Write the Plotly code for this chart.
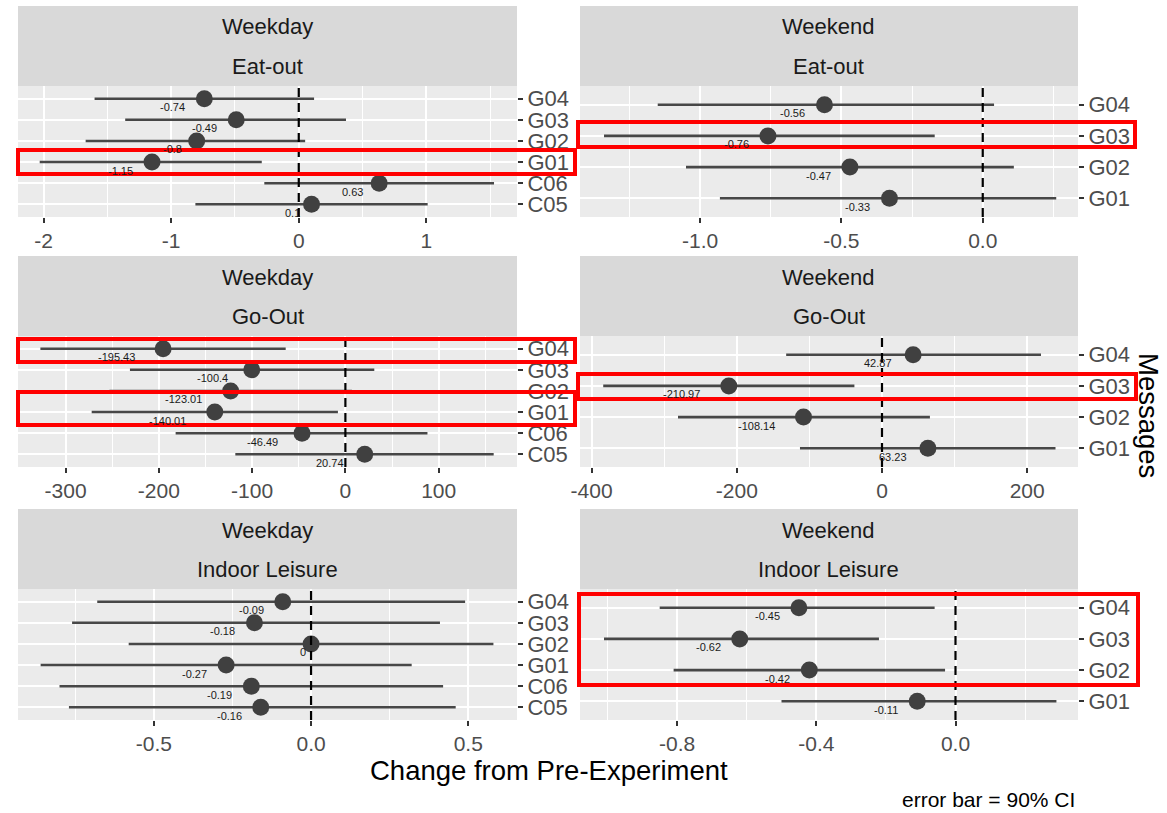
import plotly.graph_objects as go

W, H = 1167, 813
FONT = "Liberation Sans, Arial, sans-serif"

# ---------------- data ----------------
cats_weekday = ["G04", "G03", "G02", "G01", "C06", "C05"]
cats_weekend = ["G04", "G03", "G02", "G01"]

strip_day = ["Weekday", "Weekend"]
strip_act = ["Eat-out", "Go-Out", "Indoor Leisure"]

eat_wd_est = [-0.74, -0.49, -0.8, -1.15, 0.63, 0.1]
eat_wd_lo = [-1.60, -1.36, -1.67, -2.03, -0.27, -0.81]
eat_wd_hi = [0.12, 0.37, 0.05, -0.29, 1.53, 1.01]

eat_we_est = [-0.56, -0.76, -0.47, -0.33]
eat_we_lo = [-1.15, -1.34, -1.05, -0.93]
eat_we_hi = [0.04, -0.17, 0.11, 0.26]

go_wd_est = [-195.43, -100.4, -123.01, -140.01, -46.49, 20.74]
go_wd_lo = [-327, -231, -253, -272, -182, -118]
go_wd_hi = [-64, 31, 7, -8, 88, 159]

go_we_est = [42.87, -210.97, -108.14, 63.23]
go_we_lo = [-132, -384, -281, -113]
go_we_hi = [219, -38, 66, 239]

in_wd_est = [-0.09, -0.18, 0, -0.27, -0.19, -0.16]
in_wd_lo = [-0.68, -0.76, -0.58, -0.86, -0.80, -0.77]
in_wd_hi = [0.49, 0.41, 0.58, 0.32, 0.42, 0.46]

in_we_est = [-0.45, -0.62, -0.42, -0.11]
in_we_lo = [-0.85, -1.01, -0.81, -0.50]
in_we_hi = [-0.06, -0.22, -0.03, 0.29]

# x axis ticks per panel
ticks_eat_wd = [-2, -1, 0, 1]
ticklab_eat_wd = ["-2", "-1", "0", "1"]
ticks_eat_we = [-1.0, -0.5, 0.0]
ticklab_eat_we = ["-1.0", "-0.5", "0.0"]
ticks_go_wd = [-300, -200, -100, 0, 100]
ticklab_go_wd = ["-300", "-200", "-100", "0", "100"]
ticks_go_we = [-400, -200, 0, 200]
ticklab_go_we = ["-400", "-200", "0", "200"]
ticks_in_wd = [-0.5, 0.0, 0.5]
ticklab_in_wd = ["-0.5", "0.0", "0.5"]
ticks_in_we = [-0.8, -0.4, 0.0]
ticklab_in_we = ["-0.8", "-0.4", "0.0"]

panels = [
    # (row, col, cats, est, lo, hi, ticks, labels, range)
    (0, 0, cats_weekday, eat_wd_est, eat_wd_lo, eat_wd_hi, ticks_eat_wd, ticklab_eat_wd, [-2.20, 1.71]),
    (0, 1, cats_weekend, eat_we_est, eat_we_lo, eat_we_hi, ticks_eat_we, ticklab_eat_we, [-1.425, 0.337]),
    (1, 0, cats_weekday, go_wd_est, go_wd_lo, go_wd_hi, ticks_go_wd, ticklab_go_wd, [-351, 184]),
    (1, 1, cats_weekend, go_we_est, go_we_lo, go_we_hi, ticks_go_we, ticklab_go_we, [-416, 270]),
    (2, 0, cats_weekday, in_wd_est, in_wd_lo, in_wd_hi, ticks_in_wd, ticklab_in_wd, [-0.932, 0.655]),
    (2, 1, cats_weekend, in_we_est, in_we_lo, in_we_hi, ticks_in_we, ticklab_in_we, [-1.079, 0.352]),
]

# ---------------- layout geometry (pixels) ----------------
col_x = [(18, 517), (580, 1078)]
row_panel = [(86, 217), (336, 467), (589, 720)]
row_strip = [(6, 86), (256, 336), (509, 589)]

def px(x):
    return x / W

def py(y):
    return 1 - y / H

def label_width(s, size=11):
    w = 0
    for ch in s:
        if ch.isdigit():
            w += 0.556
        elif ch == "-":
            w += 0.333
        elif ch == ".":
            w += 0.278
        else:
            w += 0.5
    return w * size

fig = go.Figure()
layout = dict(
    width=W, height=H,
    margin=dict(l=0, r=0, t=0, b=0, autoexpand=False),
    paper_bgcolor="white",
    plot_bgcolor="#EBEBEB",
    showlegend=False,
    font=dict(family=FONT, color="#4D4D4D"),
)
annotations = []
shapes = []

for i, (r, c, cats, est, lo, hi, tv, tl, rng) in enumerate(panels):
    n = i + 1
    xa = "xaxis" if n == 1 else f"xaxis{n}"
    ya = "yaxis" if n == 1 else f"yaxis{n}"
    xr = "x" if n == 1 else f"x{n}"
    yr = "y" if n == 1 else f"y{n}"
    x0, x1 = col_x[c]
    ptop, pbot = row_panel[r]
    step = tv[1] - tv[0]
    minor_vals = [t + step / 2 for t in [tv[0] - step] + tv]
    layout[xa] = dict(
        domain=[px(x0), px(x1)], anchor=yr, range=rng, automargin=False,
        tickmode="array", tickvals=tv, ticktext=tl,
        ticks="outside", ticklen=5, tickwidth=2, tickcolor="#333333",
        tickfont=dict(family=FONT, size=21, color="#4D4D4D"),
        showgrid=True, gridcolor="white", gridwidth=2,
        minor=dict(tickmode="array", tickvals=minor_vals, showgrid=True,
                   gridcolor="white", gridwidth=1, ticks=""),
        zeroline=False, showline=False, fixedrange=True,
    )
    layout[ya] = dict(
        domain=[py(pbot), py(ptop)], anchor=xr, side="right", automargin=False,
        type="category", categoryorder="array", categoryarray=cats[::-1],
        range=[-0.6, len(cats) - 0.4],
        tickmode="array", tickvals=cats, ticktext=cats,
        ticks="outside", ticklen=5, tickwidth=2, tickcolor="#333333",
        tickfont=dict(family=FONT, size=22, color="#4D4D4D"),
        showgrid=True, gridcolor="white", gridwidth=2,
        zeroline=False, showline=False, fixedrange=True,
    )
    # dashed zero line
    shapes.append(dict(type="line", xref=xr, yref=f"{yr} domain", x0=0, x1=0, y0=0, y1=1,
                       line=dict(color="black", width=2.2, dash="9px,6px"), layer="above"))
    # error bars + points
    fig.add_trace(go.Scatter(
        x=est, y=cats, mode="markers", xaxis=xr, yaxis=yr,
        marker=dict(size=17, color="#404040"),
        error_x=dict(type="data", symmetric=False,
                     array=[h - e for h, e in zip(hi, est)],
                     arrayminus=[e - l for e, l in zip(est, lo)],
                     width=0, thickness=2.6, color="#474747"),
        hoverinfo="skip",
    ))
    # value labels
    for e, cat in zip(est, cats):
        s = f"{e:g}"
        annotations.append(dict(
            x=e, y=cat, xref=xr, yref=yr, text=s, showarrow=False,
            xanchor="center", yanchor="middle",
            xshift=-1.26 * label_width(s), yshift=-8.5,
            font=dict(family=FONT, size=11, color="#1A1A1A"),
        ))
    # strip
    st, sb = row_strip[r]
    shapes.append(dict(type="rect", xref="paper", yref="paper",
                       x0=px(x0), x1=px(x1), y0=py(sb), y1=py(st),
                       fillcolor="#D9D9D9", line=dict(width=0), layer="below"))
    annotations.append(dict(x=px((x0 + x1) / 2), y=py(st + 21), xref="paper", yref="paper",
                            text=strip_day[c], showarrow=False, xanchor="center", yanchor="middle",
                            font=dict(family=FONT, size=22, color="#1A1A1A")))
    annotations.append(dict(x=px((x0 + x1) / 2), y=py(st + 60), xref="paper", yref="paper",
                            text=strip_act[r], showarrow=False, xanchor="center", yanchor="middle",
                            font=dict(family=FONT, size=22, color="#1A1A1A")))

# axis titles & caption
annotations.append(dict(x=px(549), y=py(770), xref="paper", yref="paper",
                        text="Change from Pre-Experiment", showarrow=False,
                        xanchor="center", yanchor="middle",
                        font=dict(family=FONT, size=27.5, color="black")))
annotations.append(dict(x=px(1149), y=py(415), xref="paper", yref="paper",
                        text="Messages", showarrow=False, textangle=90,
                        xanchor="center", yanchor="middle",
                        font=dict(family=FONT, size=27.5, color="black")))
annotations.append(dict(x=px(1077), y=py(799), xref="paper", yref="paper",
                        text="error bar = 90% CI", showarrow=False,
                        xanchor="right", yanchor="middle",
                        font=dict(family=FONT, size=21, color="black")))

# red highlight boxes (pixel boxes: x0, y0, x1, y1)
highlight_boxes = [
    (18, 150, 575, 174),
    (578, 122, 1135, 147),
    (18, 339, 575, 362),
    (18, 392, 575, 425),
    (578, 374, 1136, 399),
    (579, 594, 1138, 685),
]
for (a, b, cc, d) in highlight_boxes:
    shapes.append(dict(type="rect", xref="paper", yref="paper",
                       x0=px(a), x1=px(cc), y0=py(d), y1=py(b),
                       line=dict(color="#FF0000", width=4), fillcolor="rgba(0,0,0,0)",
                       layer="above"))

layout["annotations"] = annotations
layout["shapes"] = shapes
fig.update_layout(**layout)
fig.write_html(
    "out.html",
    config={"displayModeBar": False},
    post_script="document.body.style.margin='0px';document.body.style.overflow='hidden';",
)
